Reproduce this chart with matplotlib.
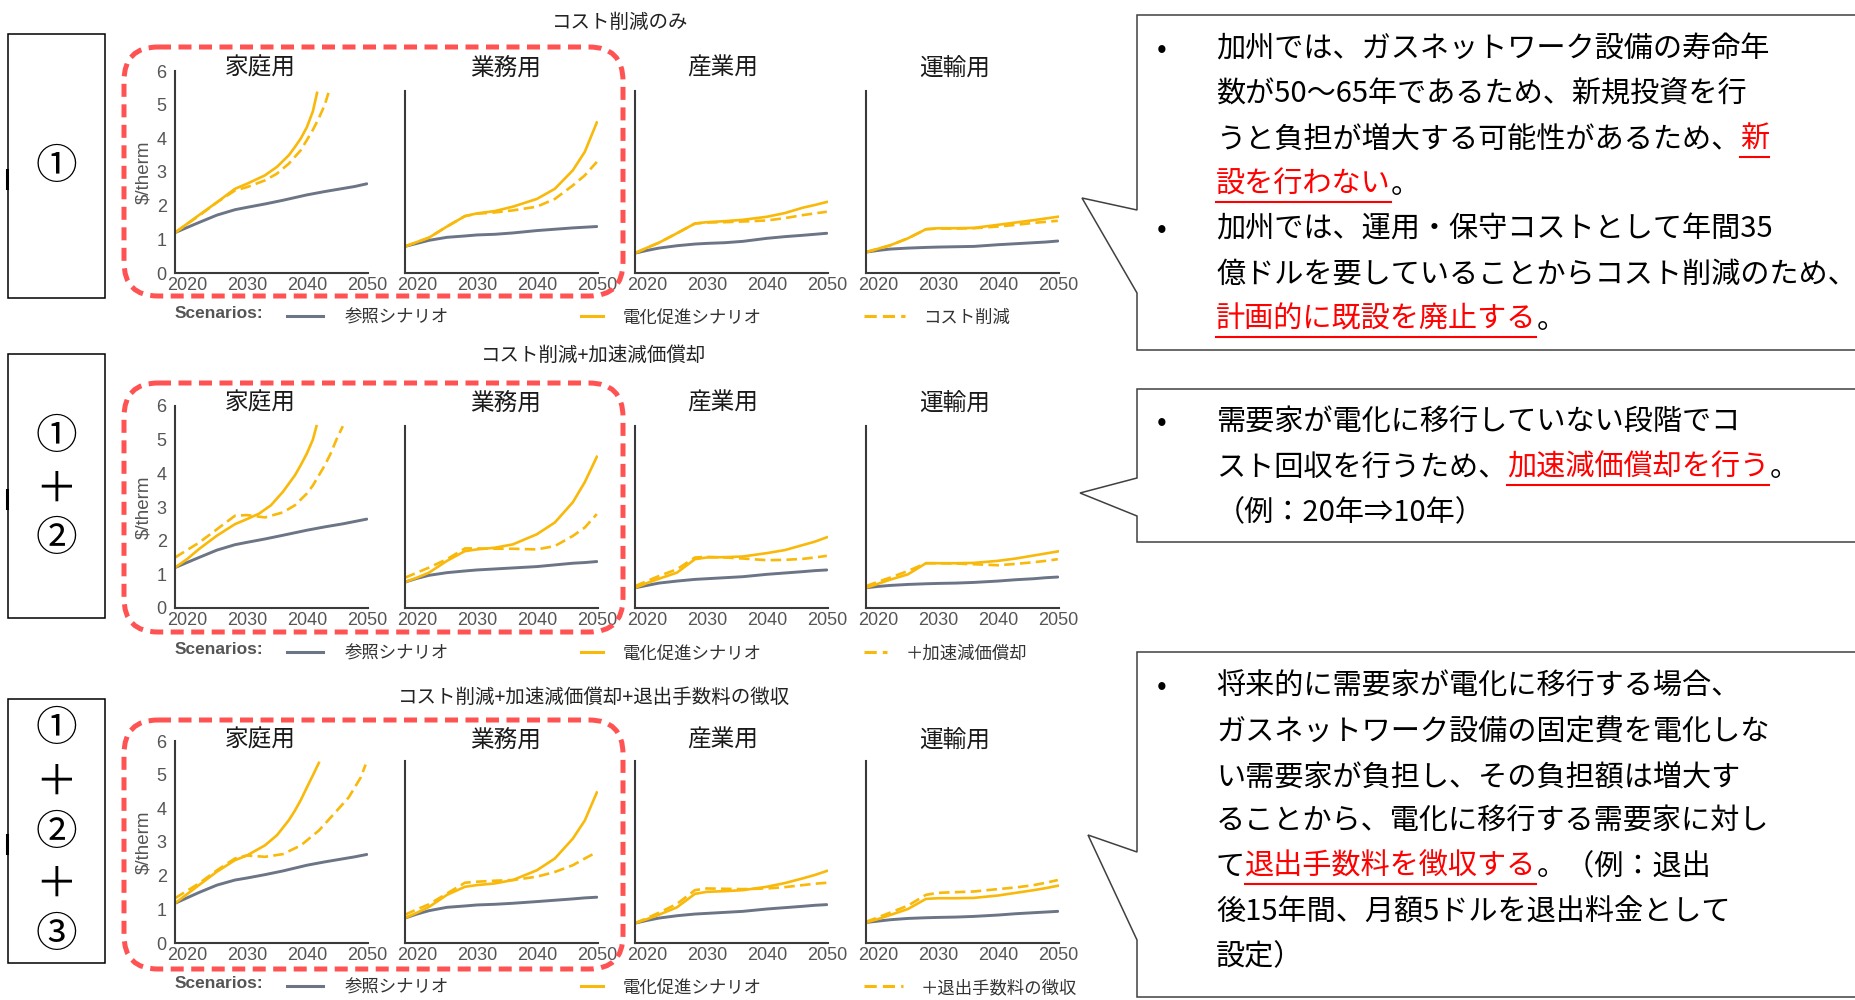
import matplotlib
matplotlib.use("Agg")
import matplotlib.pyplot as plt
from matplotlib.patches import Rectangle, Polygon, FancyBboxPatch

#
# 3 scenario rows x 4 sectors of gas rate ($/therm) + callout boxes on the right
#

W, H = 1855, 1000
JP = ['Noto Sans CJK JP', 'DejaVu Sans']
plt.rcParams['font.family'] = ['Liberation Sans', 'DejaVu Sans']

sectors = ['家庭用', '業務用', '産業用', '運輸用']
row_titles = ['コスト削減のみ', 'コスト削減+加速減価償却', 'コスト削減+加速減価償却+退出手数料の徴収']
row_marks = [['①'], ['①', '＋', '②'], ['①', '＋', '②', '＋', '③']]
legend_ref = '参照シナリオ'
legend_elec = '電化促進シナリオ'
legend_policy = ['コスト削減', '＋加速減価償却', '＋退出手数料の徴収']

x_ticks = [2020, 2030, 2040, 2050]
y_ticks = [0, 1, 2, 3, 4, 5, 6]

# common year grid for most series
years = [2018, 2020, 2022, 2025, 2028, 2030, 2033, 2036, 2040, 2043, 2046, 2048, 2050]

# --- row 1: cost cut only ---
r1_ref = [
    [1.2, 1.35, 1.5, 1.72, 1.88, 1.95, 2.05, 2.16, 2.32, 2.42, 2.51, 2.57, 2.65],
    [0.79, 0.88, 0.97, 1.06, 1.1, 1.13, 1.15, 1.19, 1.26, 1.3, 1.34, 1.36, 1.38],
    [0.59, 0.67, 0.74, 0.81, 0.86, 0.88, 0.9, 0.94, 1.03, 1.08, 1.12, 1.15, 1.18],
    [0.62, 0.67, 0.71, 0.74, 0.76, 0.77, 0.78, 0.79, 0.84, 0.87, 0.9, 0.92, 0.95],
]
r1_elec = [
    None,
    [0.79, 0.92, 1.05, 1.38, 1.69, 1.77, 1.84, 1.97, 2.2, 2.5, 3.05, 3.6, 4.47],
    [0.59, 0.75, 0.9, 1.18, 1.47, 1.51, 1.54, 1.58, 1.67, 1.78, 1.94, 2.02, 2.11],
    [0.62, 0.72, 0.82, 1.03, 1.3, 1.33, 1.33, 1.34, 1.43, 1.5, 1.57, 1.62, 1.67],
]
r1_policy = [
    None,
    [0.79, 0.92, 1.05, 1.38, 1.69, 1.76, 1.8, 1.86, 1.97, 2.2, 2.6, 2.9, 3.3],
    [0.59, 0.75, 0.9, 1.18, 1.47, 1.5, 1.51, 1.53, 1.56, 1.63, 1.72, 1.77, 1.82],
    [0.62, 0.72, 0.82, 1.03, 1.3, 1.32, 1.32, 1.33, 1.38, 1.43, 1.49, 1.52, 1.55],
]
r1_home_elec_x = [2018, 2020, 2022, 2025, 2028, 2030, 2033, 2035, 2037, 2038, 2039, 2040, 2041, 2041.7]
r1_home_elec_y = [1.2, 1.46, 1.72, 2.1, 2.5, 2.65, 2.9, 3.15, 3.5, 3.74, 4.0, 4.33, 4.8, 5.35]
r1_home_policy_x = [2018, 2020, 2022, 2025, 2028, 2030, 2033, 2035, 2037, 2039, 2040, 2041, 2042, 2043, 2043.6]
r1_home_policy_y = [1.2, 1.45, 1.7, 2.1, 2.45, 2.55, 2.75, 2.95, 3.25, 3.65, 3.95, 4.25, 4.6, 5.0, 5.35]

# --- row 2: + accelerated depreciation ---
r2_ref = [
    [1.2, 1.35, 1.5, 1.72, 1.88, 1.95, 2.05, 2.16, 2.31, 2.41, 2.5, 2.57, 2.64],
    [0.77, 0.88, 0.97, 1.05, 1.1, 1.13, 1.16, 1.19, 1.23, 1.28, 1.33, 1.35, 1.38],
    [0.6, 0.67, 0.74, 0.8, 0.85, 0.87, 0.9, 0.93, 1.0, 1.04, 1.08, 1.11, 1.13],
    [0.6, 0.64, 0.67, 0.7, 0.72, 0.73, 0.74, 0.76, 0.8, 0.84, 0.87, 0.9, 0.92],
]
r2_elec = [
    None,
    [0.77, 0.9, 1.05, 1.4, 1.69, 1.74, 1.79, 1.89, 2.19, 2.54, 3.14, 3.74, 4.49],
    [0.6, 0.74, 0.87, 1.05, 1.45, 1.5, 1.51, 1.53, 1.63, 1.72, 1.87, 1.97, 2.1],
    [0.6, 0.72, 0.84, 1.0, 1.33, 1.33, 1.33, 1.34, 1.4, 1.47, 1.56, 1.62, 1.68],
]
r2_policy = [
    None,
    [0.9, 1.05, 1.2, 1.45, 1.77, 1.77, 1.76, 1.76, 1.74, 1.84, 2.14, 2.39, 2.79],
    [0.65, 0.8, 0.95, 1.15, 1.5, 1.52, 1.5, 1.47, 1.42, 1.43, 1.46, 1.5, 1.55],
    [0.65, 0.78, 0.9, 1.1, 1.33, 1.33, 1.32, 1.3, 1.27, 1.31, 1.36, 1.4, 1.45],
]
r2_home_elec_x = [2018, 2020, 2022, 2025, 2028, 2030, 2032, 2034, 2036, 2038, 2039, 2040, 2041, 2041.6]
r2_home_elec_y = [1.2, 1.45, 1.75, 2.15, 2.49, 2.64, 2.8, 3.05, 3.45, 3.94, 4.25, 4.59, 5.0, 5.4]
r2_home_policy_x = [2018, 2020, 2022, 2025, 2028, 2030, 2033, 2036, 2038, 2040, 2041, 2043, 2044, 2045, 2046]
r2_home_policy_y = [1.5, 1.72, 1.94, 2.34, 2.74, 2.76, 2.69, 2.84, 3.05, 3.4, 3.64, 4.24, 4.6, 5.03, 5.4]

# --- row 3: + exit fee ---
r3_ref = [
    [1.18, 1.34, 1.5, 1.72, 1.87, 1.93, 2.03, 2.14, 2.31, 2.41, 2.5, 2.56, 2.63],
    [0.74, 0.86, 0.96, 1.06, 1.1, 1.13, 1.15, 1.18, 1.23, 1.27, 1.31, 1.34, 1.36],
    [0.59, 0.67, 0.74, 0.81, 0.86, 0.88, 0.91, 0.94, 1.01, 1.05, 1.09, 1.12, 1.14],
    [0.61, 0.65, 0.69, 0.73, 0.75, 0.76, 0.77, 0.79, 0.83, 0.87, 0.9, 0.92, 0.94],
]
r3_elec = [
    None,
    [0.74, 0.9, 1.07, 1.43, 1.67, 1.72, 1.77, 1.87, 2.16, 2.51, 3.1, 3.64, 4.47],
    [0.59, 0.71, 0.84, 1.06, 1.46, 1.52, 1.54, 1.57, 1.67, 1.78, 1.92, 2.02, 2.14],
    [0.61, 0.71, 0.83, 1.01, 1.31, 1.33, 1.33, 1.34, 1.41, 1.49, 1.57, 1.63, 1.7],
]
r3_policy = [
    None,
    [0.84, 1.0, 1.15, 1.47, 1.79, 1.82, 1.85, 1.87, 1.97, 2.11, 2.31, 2.51, 2.7],
    [0.59, 0.74, 0.9, 1.16, 1.57, 1.62, 1.61, 1.6, 1.62, 1.66, 1.72, 1.76, 1.79],
    [0.63, 0.76, 0.9, 1.11, 1.43, 1.49, 1.51, 1.53, 1.6, 1.65, 1.72, 1.79, 1.87],
]
r3_home_elec_x = [2018, 2020, 2022, 2025, 2028, 2030, 2033, 2035, 2037, 2038, 2039, 2040, 2041, 2042]
r3_home_elec_y = [1.18, 1.45, 1.72, 2.12, 2.46, 2.6, 2.9, 3.2, 3.65, 3.93, 4.25, 4.62, 4.98, 5.35]
r3_home_policy_x = [2018, 2020, 2022, 2025, 2028, 2030, 2033, 2036, 2039, 2042, 2045, 2047, 2049, 2049.8]
r3_home_policy_y = [1.33, 1.55, 1.77, 2.16, 2.51, 2.6, 2.56, 2.64, 2.9, 3.34, 3.93, 4.33, 4.92, 5.3]

rows = [
    (r1_ref, r1_elec, r1_policy, r1_home_elec_x, r1_home_elec_y, r1_home_policy_x, r1_home_policy_y),
    (r2_ref, r2_elec, r2_policy, r2_home_elec_x, r2_home_elec_y, r2_home_policy_x, r2_home_policy_y),
    (r3_ref, r3_elec, r3_policy, r3_home_elec_x, r3_home_elec_y, r3_home_policy_x, r3_home_policy_y),
]

# callout texts: (text, is_red)
box1_lines = [
    [('加州では、ガスネットワーク設備の寿命年', 0)],
    [('数が50～65年であるため、新規投資を行', 0)],
    [('うと負担が増大する可能性があるため、', 0), ('新', 1)],
    [('設を行わない', 1), ('。', 0)],
    [('加州では、運用・保守コストとして年間35', 0)],
    [('億ドルを要していることからコスト削減のため、', 0)],
    [('計画的に既設を廃止する', 1), ('。', 0)],
]
box2_lines = [
    [('需要家が電化に移行していない段階でコ', 0)],
    [('スト回収を行うため、', 0), ('加速減価償却を行う', 1), ('。', 0)],
    [('（例：20年⇒10年）', 0)],
]
box3_lines = [
    [('将来的に需要家が電化に移行する場合、', 0)],
    [('ガスネットワーク設備の固定費を電化しな', 0)],
    [('い需要家が負担し、その負担額は増大す', 0)],
    [('ることから、電化に移行する需要家に対し', 0)],
    [('て', 0), ('退出手数料を徴収する', 1), ('。（例：退出', 0)],
    [('後15年間、月額5ドルを退出料金として', 0)],
    [('設定）', 0)],
]

GOLD = '#F9B90A'
GRAY = '#6B7586'
SPINE = '#3a3a3a'
TICK = '#555555'
RED_BOX = '#FF5252'

# layout in pixels
row_y0 = [273, 608, 943]
panel_h = 202
panel_left = [175, 405, 635, 866]
panel_w = 193
title_x = [260, 506, 723, 955]
title_y = [68, 403, 740]
row_title_x = [620, 594, 594]
row_title_y = [22, 355, 697]
legend_y = [316, 652, 986]
dash_end = [905, 887, 903]
policy_label_x = [923, 906, 921]

fig = plt.figure(figsize=(W / 100, H / 100), dpi=100)
fig.patch.set_facecolor('white')

for r, (ref, elec, pol, hex_, hey, hpx, hpy) in enumerate(rows):
    for i in range(4):
        x0 = panel_left[i]
        ax = fig.add_axes([x0 / W, 1 - row_y0[r] / H, panel_w / W, panel_h / H])
        ax.patch.set_alpha(0)
        ax.plot(years, ref[i], color=GRAY, lw=2.1, solid_capstyle='round')
        if i == 0:
            ax.plot(hex_, hey, color=GOLD, lw=1.9)
            ax.plot(hpx, hpy, color=GOLD, lw=1.9, ls='--', dashes=(4, 2))
        else:
            ax.plot(years, elec[i], color=GOLD, lw=1.9)
            ax.plot(years, pol[i], color=GOLD, lw=1.9, ls='--', dashes=(4, 2))
        ax.set_xlim(2018, 2050.2)
        ax.set_ylim(0, 6)
        for s in ['top', 'right']:
            ax.spines[s].set_visible(False)
        for s in ['left', 'bottom']:
            ax.spines[s].set_color(SPINE)
            ax.spines[s].set_linewidth(1.5)
        ax.spines['left'].set_bounds(0, 6 if i == 0 else 5.4)
        ax.set_xticks(x_ticks)
        ax.tick_params(axis='x', length=0, labelsize=13, labelcolor=TICK, pad=3)
        ax.tick_params(axis='y', length=0, labelsize=13, labelcolor=TICK, pad=6)
        if i == 0:
            ax.set_yticks(y_ticks)
            ax.set_ylabel('\\$/therm', fontsize=13.5, color=TICK)
            ax.yaxis.set_label_coords(-0.12, 0.5)
        else:
            ax.set_yticks([])

# overlay in pixel coordinates
ov = fig.add_axes([0, 0, 1, 1])
ov.set_xlim(0, W)
ov.set_ylim(H, 0)
ov.axis('off')
renderer = fig.canvas.get_renderer()

for r in range(3):
    # left marker boxes
    top = [34, 354, 699][r]
    ov.add_patch(Rectangle((8, top), 97, 264, fill=False, ec='black', lw=1.1))
    ov.plot([7, 7], [top + 136, top + 154], color='black', lw=2.2)
    marks = row_marks[r]
    mark_y = [[168], [438, 490, 540], [730, 783, 833, 885, 935]][r]
    for m, my in zip(marks, mark_y):
        ov.text(56, my, m, fontsize=30, family=JP, ha='center', va='center', color='black')

    # red dashed frame around the first two panels
    ry = [47, 383, 720][r]
    ov.add_patch(FancyBboxPatch((124, ry), 499, 249, boxstyle='round,pad=0,rounding_size=34',
                                fill=False, ec=RED_BOX, lw=3.6, ls=(0, (2.6, 1.5)), zorder=5))

    ov.text(row_title_x[r], row_title_y[r], row_titles[r], fontsize=14, family=JP,
            ha='center', va='center', color='#222222')
    for i in range(4):
        ov.text(title_x[i], title_y[r], sectors[i], fontsize=17, family=JP,
                ha='center', va='center', color='#1a1a1a')

    # legend
    ly = legend_y[r]
    ov.text(175, ly - 2, 'Scenarios:', fontsize=12.5, fontweight='bold', color=TICK,
            ha='left', va='center')
    ov.plot([287, 323], [ly, ly], color=GRAY, lw=2.2)
    ov.text(345, ly + 2, legend_ref, fontsize=12.5, family=JP, ha='left', va='center', color='#333333')
    ov.plot([581, 603], [ly, ly], color=GOLD, lw=2.2)
    ov.text(623, ly + 2, legend_elec, fontsize=12.5, family=JP, ha='left', va='center', color='#333333')
    ov.plot([864, dash_end[r]], [ly, ly], color=GOLD, lw=2.2, ls='--', dashes=(4, 2))
    ov.text(policy_label_x[r], ly + 2, legend_policy[r], fontsize=12.5, family=JP,
            ha='left', va='center', color='#333333')

# callout boxes
callouts = [
    ([(1137, 15), (1870, 15), (1870, 350), (1137, 350), (1137, 293), (1082, 198), (1137, 210)],
     box1_lines, 50, [0, 4]),
    ([(1137, 389), (1870, 389), (1870, 542), (1137, 542), (1137, 516), (1080, 493), (1137, 478)],
     box2_lines, 423, [0]),
    ([(1137, 652), (1870, 652), (1870, 997), (1137, 997), (1137, 940), (1088, 835), (1137, 852)],
     box3_lines, 687, [0]),
]
FS = 21
for pts, lines, y_start, bullets in callouts:
    ov.add_patch(Polygon(pts, closed=True, fc='white', ec='#404040', lw=1.1))
    for k, parts in enumerate(lines):
        y = y_start + 45 * k
        if k in bullets:
            ov.text(1162, y, '•', fontsize=FS, family=JP, ha='center', va='center', color='black')
        x = 1216
        for s, red in parts:
            t = ov.text(x, y, s, fontsize=FS, family=JP, ha='left', va='center',
                        color='#FF0000' if red else 'black')
            bb = t.get_window_extent(renderer=renderer)
            if red:
                ov.plot([x, bb.x1], [y + 17, y + 17], color='#FF0000', lw=1.5)
            x = bb.x1

fig.savefig('out.png', dpi=100, facecolor='white')
